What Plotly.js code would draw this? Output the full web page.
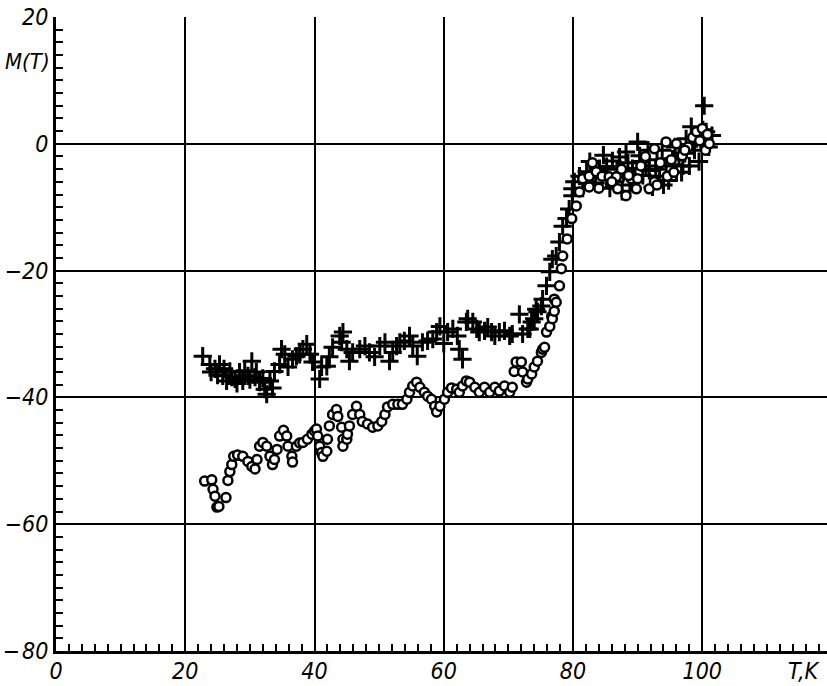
<!DOCTYPE html>
<html>
<head>
<meta charset="utf-8">
<script src="https://cdn.plot.ly/plotly-3.0.1.min.js"></script>
<style>html,body{margin:0;padding:0;background:#fff}#chart{width:827px;height:686px}</style>
</head>
<body>
<div id="chart"></div>
<script>
// Circles series (T, K ; M(T))
const circT = [23.0,24.1,24.3,24.6,24.9,25.2,26.3,26.6,26.9,27.2,27.5,28.1,28.9,29.7,30.3,30.8,31.1,31.5,32.0,32.6,33.1,33.5,33.8,34.2,34.6,35.2,35.7,35.9,36.5,36.6,37.2,37.7,38.2,38.9,39.6,40.0,40.3,40.5,40.8,41.1,41.3,41.9,42.0,42.3,42.8,43.4,43.6,44.2,44.4,44.4,45.0,45.1,45.4,45.9,46.5,47.0,47.4,48.2,49.0,49.8,50.4,50.9,51.3,52.1,52.9,53.6,54.3,54.7,55.2,55.8,56.3,57.0,57.5,58.1,58.6,58.9,59.4,60.1,60.6,61.2,62.0,62.4,62.9,63.5,64.0,64.8,65.5,66.3,67.1,67.9,68.6,69.4,70.2,70.6,70.9,71.2,72.0,72.2,72.8,73.0,73.6,74.0,74.5,75.1,75.3,75.6,75.9,76.4,76.7,76.8,77.1,77.1,77.4,77.9,78.2,78.4,79.1,79.8,80.5,81.0,81.5,82.5,82.5,83.6,84.5,85.6,86.7,86.9,87.5,88.2,89.0,89.8,90.5,91.2,91.8,92.6,92.6,93.5,94.4,94.6,95.2,96.0,96.9,97.8,98.5,99.1,100.0,100.5,101.1,
  83.0,84.0,86.0,88.6,90.0,93.0,95.6,97.3,99.6,100.8];
const circM = [-53.2,-53.0,-54.5,-55.6,-57.3,-57.2,-55.8,-53.1,-51.7,-50.6,-49.3,-49.1,-49.3,-50.1,-50.9,-51.3,-49.8,-47.7,-47.1,-47.7,-49.3,-50.6,-49.8,-48.2,-46.1,-45.2,-46.1,-47.7,-49.3,-50.2,-47.7,-47.2,-47.1,-46.6,-45.8,-45.3,-45.0,-46.1,-47.7,-48.7,-49.3,-48.5,-46.6,-44.5,-42.7,-41.9,-43.0,-44.7,-46.6,-47.7,-46.6,-45.8,-44.5,-42.7,-41.4,-42.7,-43.8,-44.2,-44.7,-44.5,-43.8,-42.7,-41.5,-41.1,-41.1,-41.1,-40.3,-39.2,-38.2,-37.6,-38.4,-39.2,-39.8,-40.3,-41.4,-42.3,-41.4,-40.3,-39.2,-38.5,-38.7,-39.2,-38.2,-37.4,-37.6,-38.4,-39.2,-38.4,-39.2,-38.4,-39.0,-38.2,-39.2,-38.4,-35.9,-34.4,-34.4,-36.0,-37.6,-37.1,-36.3,-35.2,-34.3,-32.9,-32.4,-32.1,-29.7,-28.8,-27.2,-27.6,-26.4,-24.5,-25.0,-22.4,-19.7,-17.7,-15.0,-11.8,-9.8,-7.6,-5.5,-6.8,-5.1,-4.4,-5.1,-5.2,-5.2,-7.1,-4.0,-8.2,-5.5,-7.1,-3.5,-2.0,-7.1,-6.0,-0.8,-3.0,0.3,-5.1,-2.5,0.0,-1.9,-0.5,1.0,1.9,2.4,-1.0,0.0,
  -3.0,-7.0,-6.0,-5.0,-5.5,-6.5,-4.5,-1.0,0.5,1.5];

// Crosses series (T, K ; M(T))
const crossT = [22.7,23.8,24.6,25.3,25.8,26.4,26.9,27.7,28.4,28.9,29.7,30.3,30.8,31.5,32.3,32.6,33.1,33.8,34.6,34.9,35.4,35.9,36.6,37.2,37.7,38.2,38.8,39.3,39.7,40.8,41.1,41.9,42.3,42.8,43.9,44.2,44.4,45.0,45.4,45.9,47.0,47.8,48.5,49.3,50.1,50.9,51.6,52.1,52.7,53.2,53.9,54.7,55.2,55.9,56.7,57.5,58.3,58.9,59.4,60.0,60.6,61.4,62.1,62.4,62.9,63.5,63.7,64.5,65.1,65.5,66.3,66.8,67.4,67.9,68.6,69.4,70.2,70.6,71.7,72.2,73.0,73.3,73.6,74.0,74.3,74.5,75.1,75.3,75.9,76.4,76.8,77.4,77.9,78.4,79.0,79.4,79.9,79.9,80.2,81.0,82.1,83.0,84.1,84.1,85.2,85.2,86.1,86.5,87.2,87.8,88.2,88.8,89.2,90.0,90.3,90.8,91.3,91.8,92.3,93.0,93.4,94.0,94.4,95.4,96.0,96.4,97.0,97.5,98.3,98.8,99.1,99.5,100.3,100.6,101.5,
  81.5,82.6,83.5,84.7,85.7,86.8,87.6,88.5,89.6,90.6,91.6,92.8,93.8,94.8,95.8,96.8,97.3,98.0,99.8,100.1,101.0,
  24.0,25.0,26.0,27.2,28.0,29.2,30.0,31.0,32.0,33.5];
const crossM = [-33.5,-34.8,-35.5,-34.8,-36.6,-37.4,-35.9,-37.1,-36.0,-37.4,-36.6,-34.3,-36.8,-37.6,-38.7,-39.5,-37.4,-35.9,-34.8,-32.4,-33.2,-35.2,-34.0,-33.5,-33.2,-32.4,-31.6,-33.2,-34.4,-37.1,-35.2,-35.1,-33.6,-32.1,-30.3,-31.3,-29.7,-32.4,-34.3,-32.9,-32.4,-31.9,-32.9,-33.6,-31.9,-31.3,-34.3,-32.9,-31.9,-31.3,-31.1,-30.3,-31.9,-33.5,-31.3,-31.1,-30.8,-29.7,-28.8,-31.5,-29.7,-29.2,-30.3,-32.4,-34.0,-28.1,-27.6,-28.1,-29.2,-29.7,-29.5,-28.9,-29.7,-30.3,-29.7,-29.5,-30.3,-30.0,-26.9,-30.0,-29.2,-29.2,-28.1,-27.6,-26.1,-26.5,-25.6,-24.5,-22.4,-20.2,-18.2,-17.7,-15.5,-13.0,-11.8,-10.3,-8.2,-7.1,-6.0,-5.1,-4.4,-5.1,-3.9,-4.3,-5.5,-3.6,-2.7,-6.0,-2.1,-4.5,-1.3,-6.5,-3.9,0.3,-1.9,-5.0,-3.5,-4.2,-6.8,-2.5,-5.1,-6.5,-3.5,-2.4,-4.5,-2.1,-3.5,0.8,2.7,-1.0,0.8,-2.8,6.0,1.9,1.3,
  -7.0,-2.8,-6.2,-1.8,-7.0,-4.0,-7.5,-3.0,-5.5,-2.8,-1.0,-4.0,-1.0,-5.8,-0.5,-4.5,-1.5,-3.5,0.5,2.2,-0.5,
  -36.0,-36.5,-35.5,-36.8,-37.8,-35.8,-37.2,-36.0,-37.0,-38.5];

const xTickVals = [0,20,40,60,80,100];
const xTickText = ['0','20','40','60','80','100'];
const yTickVals = [-80,-60,-40,-20,0,20];
const yTickText = ['\u2212\u200a80','\u221260','\u221240','\u221220','0','20'];

const FONT = '"DejaVu Sans Condensed","Liberation Sans Narrow","Liberation Sans",sans-serif';

const traces = [
  {x: crossT, y: crossM, type: 'scatter', mode: 'markers', name: 'cross',
   marker: {symbol: 'cross-thin-open', size: 13, color: '#000', line: {width: 3, color: '#000'}}},
  {x: circT, y: circM, type: 'scatter', mode: 'markers', name: 'circle',
   marker: {symbol: 'circle', size: 9, color: '#fff', line: {width: 2.5, color: '#000'}}}
];

const layout = {
  width: 827, height: 686,
  margin: {l: 56, r: 0, t: 17, b: 35},
  paper_bgcolor: '#fff', plot_bgcolor: '#fff',
  showlegend: false,
  font: {family: FONT, size: 23, color: '#000', style: 'italic'},
  xaxis: {
    range: [0, 119.3], autorange: false,
    tickvals: xTickVals, ticktext: xTickText,
    ticks: 'inside', ticklen: 8, tickwidth: 2, tickcolor: '#000',
    ticklabelstandoff: -3,
    showgrid: true, gridcolor: '#000', gridwidth: 2,
    zeroline: false,
    showline: true, linecolor: '#000', linewidth: 3,
    minor: {dtick: 2, tick0: 0, ticks: 'inside', ticklen: 7, tickwidth: 2, tickcolor: '#000', showgrid: false},
    tickfont: {family: FONT, size: 23, color: '#000', style: 'italic'}
  },
  yaxis: {
    range: [-80, 20], autorange: false,
    tickvals: yTickVals, ticktext: yTickText,
    ticks: 'inside', ticklen: 8, tickwidth: 2, tickcolor: '#000',
    showgrid: true, gridcolor: '#000', gridwidth: 2,
    zeroline: false,
    showline: true, linecolor: '#000', linewidth: 3,
    minor: {dtick: 2, tick0: 0, ticks: 'inside', ticklen: 7, tickwidth: 2, tickcolor: '#000', showgrid: false},
    tickfont: {family: FONT, size: 23, color: '#000', style: 'italic'}
  },
  annotations: [
    {text: 'M(T)', xref: 'paper', yref: 'paper', x: -0.037, y: 0.93, xanchor: 'center', yanchor: 'middle',
     showarrow: false, font: {family: FONT, size: 22, color: '#000', style: 'italic'}},
    {text: 'T,K', xref: 'x', yref: 'paper', x: 115.6, y: -0.031, xanchor: 'center', yanchor: 'middle',
     showarrow: false, font: {family: FONT, size: 23, color: '#000', style: 'italic'}}
  ]
};

Plotly.newPlot('chart', traces, layout, {displayModeBar: false, staticPlot: true});
</script>
</body>
</html>
